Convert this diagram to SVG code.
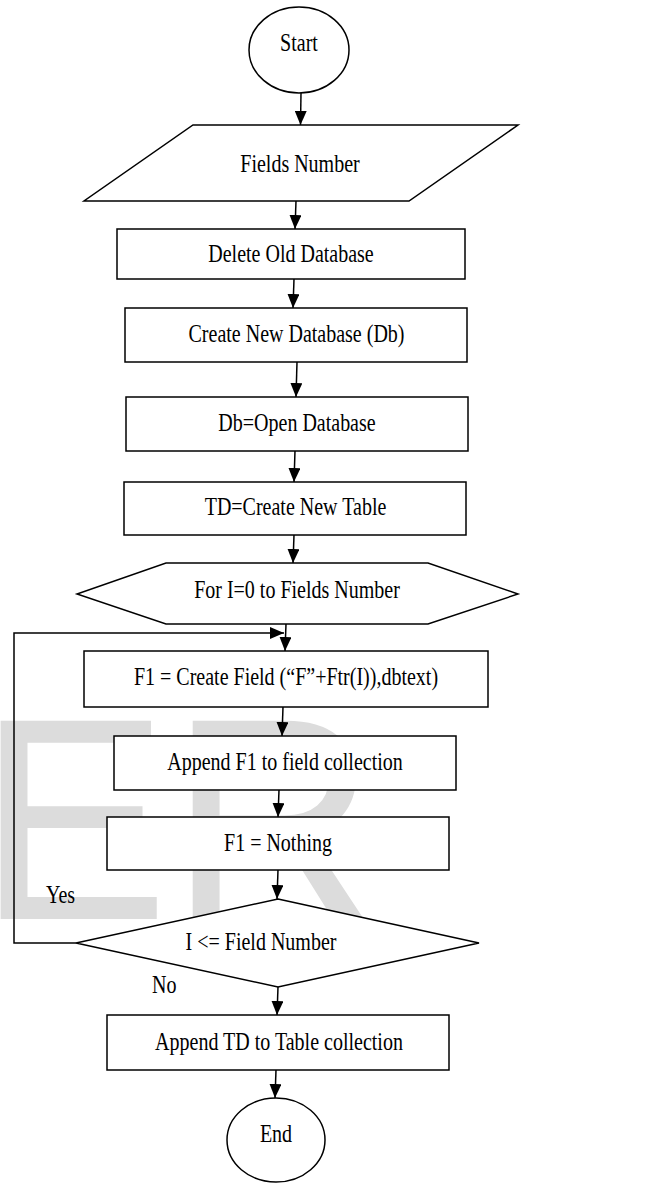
<svg xmlns="http://www.w3.org/2000/svg" width="654" height="1184" viewBox="0 0 654 1184">
  <style>
    .shape { fill: #ffffff; stroke: #000000; stroke-width: 1.5; }
    .edge { fill: none; stroke: #000000; stroke-width: 1.5; }
    .label { font-family: "Liberation Serif", "Times New Roman", serif; font-size: 20px; fill: #000000; text-anchor: middle; }
    .note { font-family: "Liberation Serif", "Times New Roman", serif; font-size: 20px; fill: #000000; text-anchor: start; }
    .mark { font-family: "Liberation Sans", Arial, sans-serif; font-size: 288px; fill: #dcdcdc; }
  </style>
  <defs>
    <marker id="arrow" markerUnits="userSpaceOnUse" markerWidth="14" markerHeight="12" refX="14" refY="6" orient="auto">
      <path d="M0,0 L14,6 L0,12 Z" fill="#000000"/>
    </marker>
  </defs>

  <rect x="0" y="0" width="654" height="1184" fill="#ffffff"/>

  <!-- background lettering -->
  <text class="mark" x="-23" y="919">ER</text>

  <!-- connectors -->
  <g id="connectors">
    <line class="edge" x1="301" y1="93" x2="300.5" y2="125" marker-end="url(#arrow)"/>
    <line class="edge" x1="296" y1="201" x2="295" y2="229" marker-end="url(#arrow)"/>
    <line class="edge" x1="294" y1="279" x2="293" y2="308" marker-end="url(#arrow)"/>
    <line class="edge" x1="297" y1="362" x2="296" y2="397" marker-end="url(#arrow)"/>
    <line class="edge" x1="295" y1="451" x2="294" y2="482" marker-end="url(#arrow)"/>
    <line class="edge" x1="294" y1="535" x2="293" y2="563" marker-end="url(#arrow)"/>
    <line class="edge" x1="286" y1="624" x2="285" y2="651" marker-end="url(#arrow)"/>
    <line class="edge" x1="283" y1="707" x2="282" y2="736" marker-end="url(#arrow)"/>
    <line class="edge" x1="279" y1="790" x2="278" y2="817" marker-end="url(#arrow)"/>
    <line class="edge" x1="278" y1="870" x2="277" y2="899" marker-end="url(#arrow)"/>
    <line class="edge" x1="278" y1="987" x2="277" y2="1015" marker-end="url(#arrow)"/>
    <line class="edge" x1="276" y1="1070" x2="275" y2="1098" marker-end="url(#arrow)"/>
    <!-- loop back from the decision -->
    <polyline class="edge" points="76,943 14,943 14,633 284,633" marker-end="url(#arrow)"/>
  </g>

  <g id="start">
    <ellipse class="shape" cx="299" cy="50" rx="50" ry="43"/>
    <text class="label" transform="translate(299,51) scale(1,1.28)">Start</text>
  </g>

  <g id="fields-number">
    <polygon class="shape" points="193,125 518,125 409,201 84,201"/>
    <text class="label" transform="translate(300,172) scale(1,1.28)">Fields Number</text>
  </g>

  <g id="delete-old-db">
    <rect class="shape" x="117" y="229" width="348" height="50"/>
    <text class="label" transform="translate(291,262) scale(1,1.28)">Delete Old Database</text>
  </g>

  <g id="create-db">
    <rect class="shape" x="125" y="308" width="342" height="54"/>
    <text class="label" transform="translate(296.5,342) scale(1,1.28)">Create New Database (Db)</text>
  </g>

  <g id="open-db">
    <rect class="shape" x="126" y="397" width="342" height="54"/>
    <text class="label" transform="translate(297,431) scale(1,1.28)">Db=Open Database</text>
  </g>

  <g id="create-table">
    <rect class="shape" x="124" y="482" width="342" height="53"/>
    <text class="label" transform="translate(295.5,515) scale(1,1.28)">TD=Create New Table</text>
  </g>

  <g id="for-loop">
    <polygon class="shape" points="166,563 428,563 518,594 428,624 166,624 77,594"/>
    <text class="label" transform="translate(297,598) scale(1,1.28)">For I=0 to Fields Number</text>
  </g>

  <g id="create-field">
    <rect class="shape" x="84" y="651" width="404" height="56"/>
    <text class="label" transform="translate(286,685) scale(1,1.28)">F1 = Create Field (“F”+Ftr(I)),dbtext)</text>
  </g>

  <g id="append-field">
    <rect class="shape" x="114" y="736" width="342" height="54"/>
    <text class="label" transform="translate(285,770) scale(1,1.28)">Append F1 to field collection</text>
  </g>

  <g id="clear-field">
    <rect class="shape" x="107" y="817" width="342" height="53"/>
    <text class="label" transform="translate(278,851) scale(1,1.28)">F1 = Nothing</text>
  </g>

  <g id="check">
    <polygon class="shape" points="278,899 479,943 278,987 76,943"/>
    <text class="label" transform="translate(261,950) scale(1,1.28)">I &lt;= Field Number</text>
  </g>

  <g id="branch-labels">
    <text class="note" transform="translate(46,903) scale(1,1.28)">Yes</text>
    <text class="note" transform="translate(152,993) scale(1,1.28)">No</text>
  </g>

  <g id="append-table">
    <rect class="shape" x="107" y="1015" width="342" height="55"/>
    <text class="label" transform="translate(279,1050) scale(1,1.28)">Append TD to Table collection</text>
  </g>

  <g id="end">
    <ellipse class="shape" cx="276" cy="1140" rx="49" ry="42"/>
    <text class="label" transform="translate(276,1142) scale(1,1.28)">End</text>
  </g>
</svg>
